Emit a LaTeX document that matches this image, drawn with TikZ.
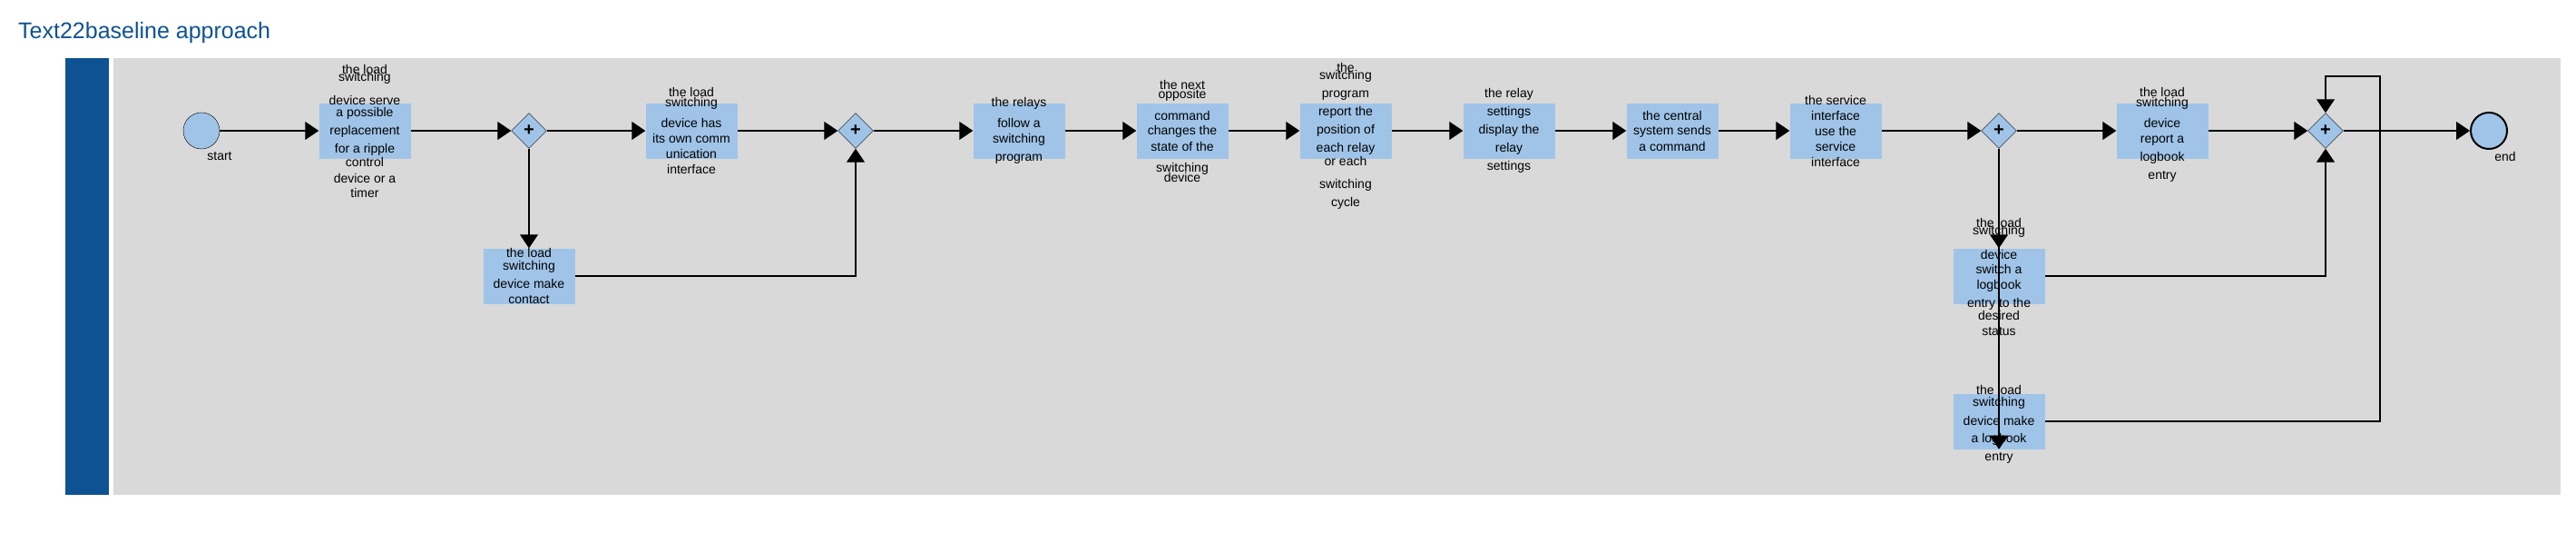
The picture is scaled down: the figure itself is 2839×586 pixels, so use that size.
\documentclass[tikz,border=0pt]{standalone}
\usepackage{fontspec}
\setmainfont{Liberation Sans}
\usepackage{tikz}
\usetikzlibrary{positioning, arrows.meta, shapes.geometric}
\definecolor{lanebar}{HTML}{0E5294}
\definecolor{lanegray}{HTML}{D9D9D9}
\definecolor{taskblue}{HTML}{A0C4E8}

\begin{document}
\begin{tikzpicture}[x=1pt, y=-1pt,
		taskbox/.style={rectangle, fill=taskblue, minimum width=101pt, minimum height=61pt, inner sep=0pt},
		tasktext/.style={align=center, inner sep=0pt, font=\fontsize{14}{17}\selectfont},
		gate/.style={diamond, draw, fill=taskblue, minimum width=39pt, minimum height=39pt, inner sep=0pt, font=\fontsize{20}{20}\selectfont\bfseries},
		event/.style={circle, draw, fill=taskblue, minimum size=40pt, inner sep=0pt},
		flow/.style={line width=1.1pt, -{Triangle[length=15pt, width=20pt]}}]
		
		\useasboundingbox (0,0) rectangle (2839,586);
		\node[anchor=base west, text=lanebar, font=\fontsize{25}{30}\selectfont, inner sep=0pt] (title) at (20,43) {Text22baseline approach};
		\fill[lanebar] (72,64) rectangle (120,545);
		\fill[lanegray] (125,64) rectangle (2822,545);
		
		\node[event] (start) at (222,144) {};
		\node[tasktext] (startlbl) at (242,172) {start};
		\node[event, line width=2pt] (stop) at (2743,144) {};
		\node[tasktext] (stoplbl) at (2761,172) {end};
		
		\node[taskbox] (t1) at (402,144) {};
		\node[gate] (g1) at (583,144) {+};
		\node[taskbox] (t2) at (762,144) {};
		\node[taskbox] (c1) at (583,304) {};
		\node[gate] (g2) at (943,144) {+};
		\node[taskbox] (t3) at (1123,144) {};
		\node[taskbox] (t4) at (1303,144) {};
		\node[taskbox] (t5) at (1483,144) {};
		\node[taskbox] (t6) at (1663,144) {};
		\node[taskbox] (t7) at (1843,144) {};
		\node[taskbox] (t8) at (2023,144) {};
		\node[gate] (g3) at (2203,144) {+};
		\node[taskbox] (t9) at (2383,144) {};
		\node[gate] (g4) at (2563,144) {+};
		\node[taskbox] (ta) at (2203,304) {};
		\node[taskbox] (tb) at (2203,464) {};
		\coordinate (loop) at (2623,84);
		
		\draw[flow] (start) -- (t1);
		\draw[flow] (t1) -- (g1);
		\draw[flow] (g1) -- (t2);
		\draw[flow] (g1) -- (c1);
		\draw[flow] (c1) -| (g2);
		\draw[flow] (t2) -- (g2);
		\draw[flow] (g2) -- (t3);
		\draw[flow] (t3) -- (t4);
		\draw[flow] (t4) -- (t5);
		\draw[flow] (t5) -- (t6);
		\draw[flow] (t6) -- (t7);
		\draw[flow] (t7) -- (t8);
		\draw[flow] (t8) -- (g3);
		\draw[flow] (g3) -- (t9);
		\draw[flow] (t9) -- (g4);
		\draw[flow] (g4) -- (stop);
		\draw[flow] (g3) -- (ta);
		\draw[flow] (g3.south) -- (tb.south);
		\draw[flow] (ta) -| (g4);
		\draw[flow] (tb) -| (loop) -| (g4);
		
		\node[tasktext] (t1txt) at (t1) {the load\\[-9pt]switching\\[9pt]device serve\\[-4pt]a possible\\[3pt]replacement\\[3pt]for a ripple\\[-2pt]control\\[1pt]device or a\\[-1pt]timer};
		\node[tasktext] (t2txt) at (t2) {the load\\[-6pt]switching\\[6pt]device has\\its own comm\\unication\\interface};
		\node[tasktext] (c1txt) at (c1) {the load\\[-3pt]switching\\[3pt]device make\\contact};
		\node[tasktext] (t3txt) at (t3) {the relays\\[6pt]follow a\\switching\\[3pt]program};
		\node[tasktext] (t4txt) at (t4) {the next\\[-7pt]opposite\\[7pt]command\\[-1pt]changes the\\[1pt]state of the\\[6pt]switching\\[-6pt]device};
		\node[tasktext, yshift=-6pt] (t5txt) at (t5) {the\\[-9pt]switching\\[3pt]program\\[3pt]report the\\[3pt]position of\\[3pt]each relay\\[-2pt]or each\\[8pt]switching\\[3pt]cycle};
		\node[tasktext] (t6txt) at (t6) {the relay\\[3pt]settings\\[3pt]display the\\[3pt]relay\\[3pt]settings};
		\node[tasktext] (t7txt) at (t7) {the central\\[-1pt]system sends\\[1pt]a command};
		\node[tasktext] (t8txt) at (t8) {the service\\interface\\use the\\service\\interface};
		\node[tasktext, yshift=-4pt] (t9txt) at (t9) {the load\\[-6pt]switching\\[6pt]device\\report a\\[3pt]logbook\\[3pt]entry};
		\node[tasktext, yshift=-1pt] (tatxt) at (ta) {the load\\[-9pt]switching\\[10pt]device\\[-1pt]switch a\\logbook\\[3pt]entry to the\\[-3pt]desired\\status};
		\node[tasktext, yshift=-3pt] (tbtxt) at (tb) {the load\\[-4pt]switching\\[4pt]device make\\[2pt]a logbook\\[3pt]entry};
		
\end{tikzpicture}
\end{document}
